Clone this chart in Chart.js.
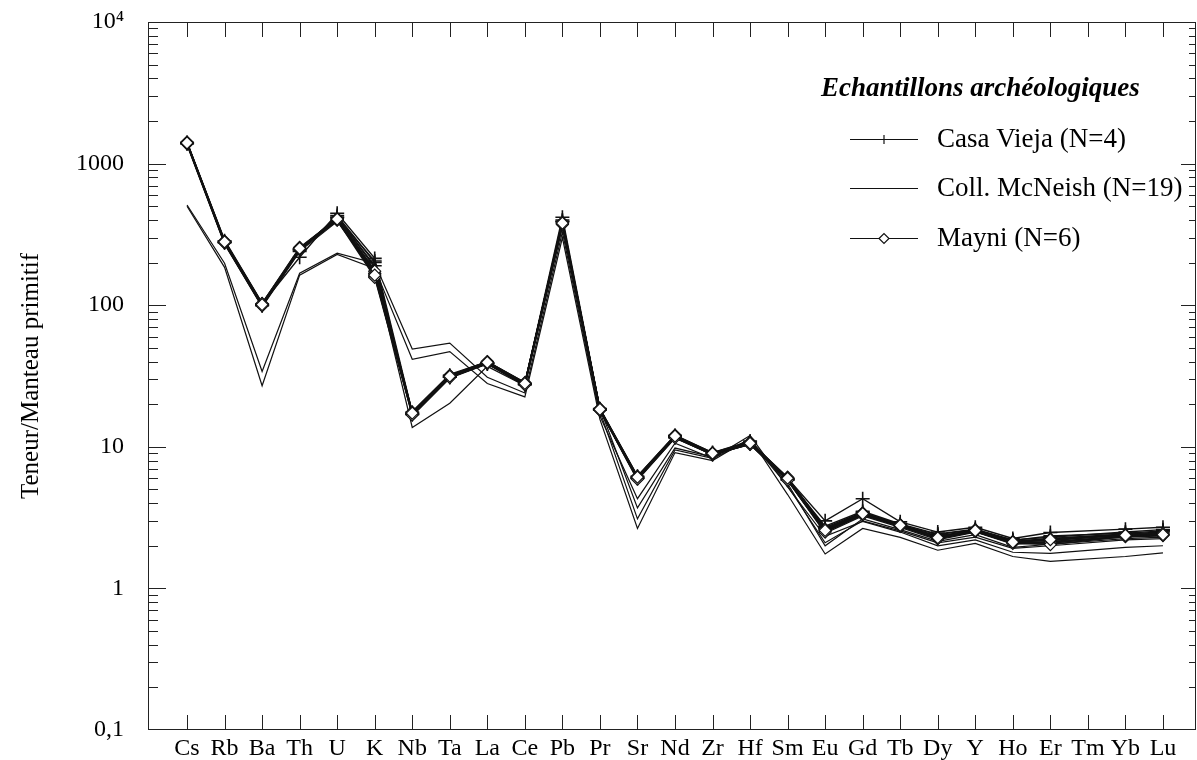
<!DOCTYPE html>
<html>
<head>
<meta charset="utf-8">
<script src="https://cdn.jsdelivr.net/npm/chart.js@4.4.0/dist/chart.umd.min.js"></script>
<style>
  html, body { margin: 0; padding: 0; background: #fff; }
  #wrap { width: 1197px; height: 760px; }
</style>
</head>
<body>
<div id="wrap"><canvas id="spider"></canvas></div>
<script>
// elements (primitive mantle normalised spider diagram)
var elements = ['Cs','Rb','Ba','Th','U','K','Nb','Ta','La','Ce','Pb','Pr','Sr','Nd','Zr','Hf','Sm','Eu','Gd','Tb','Dy','Y','Ho','Er','Tm','Yb','Lu'];

var yTicks = [0.1, 1, 10, 100, 1000, 10000];
var yTickLabels = ['0,1', '1', '10', '100', '1000', '10\u2074'];

// Casa Vieja (N=4)
var casaVieja1 = [1400, 285, 102, 218, 446, 214, 17.5, 32.0, 39.0, 28.0, 418, 18.6, 6.2, 12.0, 9.1, 11.0, 6.0, 3.00, 4.30, 2.95, 2.50, 2.70, 2.25, 2.48, null, 2.62, 2.70];
var casaVieja2 = [1380, 280, 100, 240, 430, 200, 17.0, 31.0, 38.5, 27.5, 400, 18.3, 6.1, 11.7, 8.9, 10.6, 5.9, 2.75, 3.50, 2.85, 2.42, 2.62, 2.20, 2.30, null, 2.50, 2.60];
var casaVieja3 = [1410, 278, 101, 246, 420, 190, 17.2, 31.5, 39.2, 27.8, 392, 18.4, 6.0, 11.8, 9.0, 10.8, 5.9, 2.70, 3.45, 2.80, 2.40, 2.60, 2.18, 2.35, null, 2.45, 2.55];
var casaVieja4 = [1390, 276, 99, 250, 415, 205, 16.9, 31.0, 38.8, 27.6, 388, 18.2, 6.0, 11.6, 8.8, 10.5, 5.8, 2.65, 3.40, 2.78, 2.35, 2.58, 2.15, 2.25, null, 2.42, 2.50];

// Coll. McNeish (N=19) - visible distinct traces
var mcNeish1 = [1350, 270, 98, 245, 395, 175, 13.7, 20.3, 37.0, 27.0, 360, 18.0, 5.8, 11.5, 8.8, 10.4, 5.8, 2.45, 3.25, 2.70, 2.20, 2.50, 2.05, 2.10, null, 2.30, 2.35];
var mcNeish2 = [510, 198, 34, 168, 233, 198, 49.0, 54.0, 31.0, 24.0, 330, 16.5, 4.3, 10.6, 8.3, 12.0, 5.2, 2.33, 2.97, 2.50, 2.00, 2.20, 1.80, 1.77, null, 1.95, 2.00];
var mcNeish3 = [500, 185, 27, 163, 228, 182, 41.5, 47.0, 28.0, 22.5, 300, 15.6, 2.65, 9.1, 8.0, 11.5, 4.6, 1.75, 2.65, 2.29, 1.86, 2.08, 1.68, 1.55, null, 1.68, 1.78];
var mcNeish4 = [1420, 290, 104, 246, 415, 185, 17.8, 32.5, 40.0, 28.5, 390, 18.8, 3.7, 9.8, 8.5, 11.2, 5.5, 2.00, 3.10, 2.60, 2.15, 2.40, 1.95, 2.05, null, 2.25, 2.30];
var mcNeish5 = [1370, 272, 97, 240, 390, 170, 16.5, 30.5, 38.5, 27.0, 365, 17.8, 3.1, 9.5, 8.3, 11.0, 5.3, 2.10, 3.00, 2.55, 2.10, 2.30, 1.92, 2.00, null, 2.20, 2.25];
var mcNeish6 = [1400, 282, 101, 250, 412, 178, 17.5, 32.0, 39.5, 28.0, 385, 18.5, 6.1, 11.9, 9.0, 10.6, 6.0, 2.60, 3.35, 2.80, 2.30, 2.57, 2.12, 2.20, null, 2.40, 2.45];
var mcNeish7 = [1385, 276, 99, 247, 400, 165, 17.0, 31.0, 38.8, 27.6, 370, 18.2, 5.9, 11.7, 8.8, 10.4, 5.8, 2.50, 3.30, 2.75, 2.25, 2.52, 2.08, 2.15, null, 2.33, 2.38];

// Mayni (N=6)
var mayni1 = [1400, 280, 101, 252, 405, 163, 17.3, 31.5, 39.5, 28.0, 380, 18.4, 6.1, 11.9, 9.0, 10.6, 6.0, 2.57, 3.37, 2.79, 2.28, 2.56, 2.12, 2.21, null, 2.37, 2.40];
var mayni2 = [1380, 275, 99, 248, 398, 157, 16.8, 30.8, 38.8, 27.4, 372, 18.1, 5.9, 11.6, 8.8, 10.4, 5.8, 2.50, 3.30, 2.74, 2.24, 2.52, 2.08, 2.04, null, 2.32, 2.36];
var mayni3 = [1420, 284, 103, 256, 410, 174, 17.6, 32.0, 40.0, 28.4, 385, 18.6, 6.2, 12.1, 9.1, 10.8, 6.1, 2.62, 3.42, 2.82, 2.31, 2.60, 2.15, 2.24, null, 2.40, 2.44];
var mayni4 = [1390, 278, 100, 250, 402, 168, 17.0, 31.2, 39.0, 27.8, 376, 18.2, 6.0, 11.8, 8.9, 10.5, 5.9, 2.54, 3.34, 2.77, 2.26, 2.54, 2.10, 2.12, null, 2.34, 2.38];
var mayni5 = [1410, 282, 102, 254, 408, 160, 17.4, 31.8, 39.8, 28.2, 382, 18.5, 6.1, 12.0, 9.0, 10.7, 6.0, 2.60, 3.40, 2.80, 2.30, 2.58, 2.13, 2.18, null, 2.38, 2.42];
var mayni6 = [1395, 277, 100, 251, 400, 166, 17.1, 31.4, 39.2, 27.9, 378, 18.3, 6.0, 11.8, 8.9, 10.5, 5.9, 2.56, 3.36, 2.78, 2.27, 2.55, 2.11, 2.08, null, 2.35, 2.39];

var serif = "'Liberation Serif', 'Times New Roman', serif";

function pts(arr) {
  return arr.map(function(v, i) { return { x: i, y: v }; });
}

function mcSet(arr) {
  return { label: 'Coll. McNeish (N=19)', data: pts(arr), borderColor: '#111', borderWidth: 1.2,
           pointRadius: 0, order: 3, spanGaps: true };
}
function cvSet(arr) {
  return { label: 'Casa Vieja (N=4)', data: pts(arr), borderColor: '#111', borderWidth: 1.4,
           pointStyle: 'cross', pointRadius: 7, pointBorderWidth: 1.6, pointBorderColor: '#111',
           order: 2, spanGaps: true };
}
function maSet(arr) {
  return { label: 'Mayni (N=6)', data: pts(arr), borderColor: '#111', borderWidth: 1.4,
           pointStyle: 'rectRot', pointRadius: 6, pointBorderWidth: 1.2,
           pointBorderColor: '#111', pointBackgroundColor: '#fff', order: 1, spanGaps: true };
}

var datasets = [
  mcSet(mcNeish1), mcSet(mcNeish2), mcSet(mcNeish3), mcSet(mcNeish4), mcSet(mcNeish5), mcSet(mcNeish6), mcSet(mcNeish7),
  cvSet(casaVieja1), cvSet(casaVieja2), cvSet(casaVieja3), cvSet(casaVieja4),
  maSet(mayni1), maSet(mayni2), maSet(mayni3), maSet(mayni4), maSet(mayni5), maSet(mayni6)
];

// frame + inward ticks on all four sides
var framePlugin = {
  id: 'frame',
  beforeDatasetsDraw: function(chart) {
    var ctx = chart.ctx, a = chart.chartArea;
    var xs = chart.scales.x, ys = chart.scales.y;
    ctx.save();
    ctx.strokeStyle = '#222';
    ctx.lineWidth = 1;
    ctx.strokeRect(a.left + 0.5, a.top + 0.5, a.right - a.left - 1, a.bottom - a.top - 1);
    ctx.beginPath();
    elements.forEach(function(e, i) {
      var x = Math.round(xs.getPixelForValue(i)) + 0.5;
      ctx.moveTo(x, a.bottom); ctx.lineTo(x, a.bottom - 15);
      ctx.moveTo(x, a.top); ctx.lineTo(x, a.top + 15);
    });
    for (var d = 0.1; d < 10000; d *= 10) {
      for (var k = 1; k <= 9; k++) {
        var v = d * k;
        if (v <= 0.1 && k === 1) continue;
        var y = Math.round(ys.getPixelForValue(v)) + 0.5;
        var major = (k === 1);
        ctx.moveTo(a.left, y); ctx.lineTo(a.left + (major ? 18 : 10), y);
        ctx.moveTo(a.right, y); ctx.lineTo(a.right - (major ? 15 : 7), y);
      }
    }
    var yt = Math.round(ys.getPixelForValue(10000)) + 0.5;
    ctx.moveTo(a.left, yt); ctx.lineTo(a.left + 18, yt);
    ctx.stroke();
    ctx.restore();
  }
};

// legend drawn inside the plot area
var legendPlugin = {
  id: 'innerLegend',
  afterDraw: function(chart) {
    var ctx = chart.ctx;
    ctx.save();
    ctx.fillStyle = '#000';
    ctx.textBaseline = 'middle';
    ctx.textAlign = 'left';
    ctx.font = 'italic bold 27px ' + serif;
    ctx.fillText('Echantillons arch\u00e9ologiques', 821, 89);
    var rows = [
      { text: 'Casa Vieja (N=4)', y: 139, mark: 'cross' },
      { text: 'Coll. McNeish (N=19)', y: 188, mark: 'none' },
      { text: 'Mayni (N=6)', y: 238, mark: 'diamond' }
    ];
    ctx.font = '27px ' + serif;
    rows.forEach(function(r) {
      ctx.strokeStyle = '#111';
      ctx.lineWidth = 1.2;
      ctx.beginPath();
      ctx.moveTo(850, r.y + 0.5); ctx.lineTo(918, r.y + 0.5);
      ctx.stroke();
      if (r.mark === 'cross') {
        ctx.beginPath();
        ctx.moveTo(884, r.y - 4); ctx.lineTo(884, r.y + 5);
        ctx.stroke();
      } else if (r.mark === 'diamond') {
        ctx.beginPath();
        ctx.moveTo(879, r.y + 0.5); ctx.lineTo(884, r.y - 4.5);
        ctx.lineTo(889, r.y + 0.5); ctx.lineTo(884, r.y + 5.5);
        ctx.closePath();
        ctx.fillStyle = '#fff'; ctx.fill();
        ctx.stroke();
        ctx.fillStyle = '#000';
      }
      ctx.fillText(r.text, 937, r.y + 1);
    });
    ctx.restore();
  }
};

function noPad(s) {
  s.paddingTop = 0; s.paddingBottom = 0; s.paddingLeft = 0; s.paddingRight = 0;
}

new Chart(document.getElementById('spider').getContext('2d'), {
  type: 'line',
  data: { datasets: datasets },
  options: {
    responsive: true,
    maintainAspectRatio: false,
    animation: false,
    devicePixelRatio: 1,
    layout: { autoPadding: false, padding: { top: 22, right: 1, left: 0, bottom: 0 } },
    plugins: { legend: { display: false }, tooltip: { enabled: false } },
    scales: {
      x: {
        type: 'linear',
        min: -1.04,
        max: 26.88,
        afterBuildTicks: function(s) {
          s.ticks = elements.map(function(e, i) { return { value: i }; });
        },
        afterFit: function(s) { s.height = 30; noPad(s); },
        grid: { display: false, drawTicks: false },
        border: { display: false },
        ticks: {
          autoSkip: false, maxRotation: 0, padding: 4, color: '#000',
          font: { family: serif, size: 24 },
          callback: function(v) { return elements[v] !== undefined ? elements[v] : ''; }
        }
      },
      y: {
        type: 'logarithmic',
        min: 0.1,
        max: 10000,
        afterBuildTicks: function(s) {
          s.ticks = yTicks.map(function(v) { return { value: v, major: true }; });
        },
        afterFit: function(s) { s.width = 148; noPad(s); },
        grid: { display: false, drawTicks: false },
        border: { display: false },
        ticks: {
          padding: 24, color: '#000',
          font: { family: serif, size: 24 },
          callback: function(v, i) { return yTickLabels[i]; }
        },
        title: {
          display: true, text: 'Teneur/Manteau primitif', color: '#000',
          font: { family: serif, size: 25 }, padding: { top: 16, bottom: 0 }
        }
      }
    }
  },
  plugins: [framePlugin, legendPlugin]
});
</script>
</body>
</html>
